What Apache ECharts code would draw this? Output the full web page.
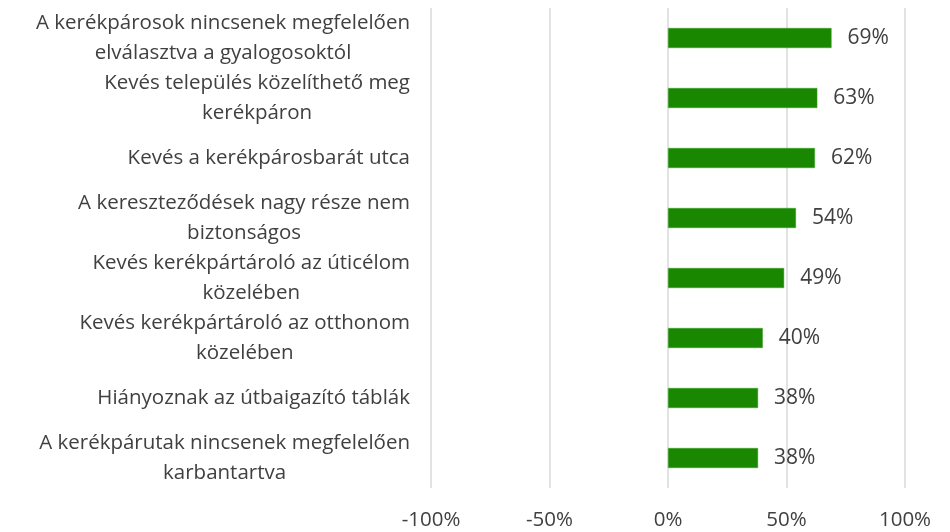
<!DOCTYPE html>
<html><head><meta charset="utf-8">
<script src="https://cdn.jsdelivr.net/npm/echarts@6/dist/echarts.min.js"></script>
<style>html,body{margin:0;padding:0;background:#fff}#c{width:950px;height:532px}</style>
</head><body><div id="c"></div>
<script>
const categories = [
  "A kerékpárosok nincsenek megfelelően\nelválasztva a gyalogosoktól",
  "Kevés település közelíthető meg\nkerékpáron",
  "Kevés a kerékpárosbarát utca",
  "A kereszteződések nagy része nem\nbiztonságos",
  "Kevés kerékpártároló az úticélom\nközelében",
  "Kevés kerékpártároló az otthonom\nközelében",
  "Hiányoznak az útbaigazító táblák",
  "A kerékpárutak nincsenek megfelelően\nkarbantartva"
];
const values = [69, 63, 62, 54, 49, 40, 38, 38];
const xTicks = [-100, -50, 0, 50, 100];

const FONT = 'Open Sans';
const chart = echarts.init(document.getElementById('c'));
chart.setOption({
  animation: false,
  grid: { left: 431, right: 45, top: 8, bottom: 44, containLabel: false },
  xAxis: {
    type: 'value', min: xTicks[0], max: xTicks[xTicks.length - 1], interval: 50,
    axisLine: { show: false }, axisTick: { show: false },
    splitLine: { lineStyle: { color: '#d9d9d9', width: 1.5 } },
    axisLabel: { formatter: v => v + '%', color: '#404040', fontFamily: FONT, fontSize: 20.5, margin: 22 }
  },
  yAxis: {
    type: 'category', data: categories, inverse: true,
    axisLine: { show: false }, axisTick: { show: false },
    axisLabel: {
      align: 'right', margin: 21, lineHeight: 30,
      formatter: v => v.split('\n').map(s => '{a|' + s + '}').join('\n'),
      rich: { a: { align: 'center', color: '#404040', fontFamily: FONT, fontSize: 20.5, lineHeight: 30 } }
    }
  },
  series: [{
    type: 'bar', data: values, barWidth: 20,
    itemStyle: { color: '#1a8700', borderColor: '#3fa02a', borderWidth: 0.5 },
    label: { show: true, position: 'right', distance: 16, formatter: p => p.value + '%',
      color: '#404040', fontFamily: FONT, fontSize: 21 }
  }]
});
</script></body></html>
